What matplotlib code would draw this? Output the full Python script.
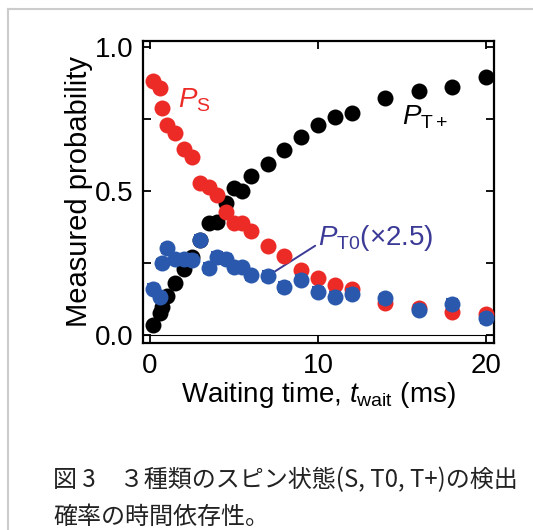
import matplotlib
matplotlib.use("Agg")
import matplotlib.pyplot as plt
from matplotlib.lines import Line2D

plt.rcParams["font.family"] = ["Liberation Sans", "DejaVu Sans"]
plt.rcParams["mathtext.fontset"] = "custom"
plt.rcParams["mathtext.rm"] = "Liberation Sans"
plt.rcParams["mathtext.it"] = "Liberation Sans:italic"

# waiting time (ms) and measured probabilities
t_ms = [0.2, 0.6, 0.7, 1.0, 1.5, 2.0, 2.5, 3.0, 3.5, 4.0, 4.5, 5.0, 5.5, 6.0,
        7, 8, 9, 10, 11, 12, 14, 16, 18, 20]
p_s = [0.883, 0.857, 0.787, 0.729, 0.700, 0.645, 0.619, 0.527, 0.515, 0.485,
       0.428, 0.388, 0.390, 0.359, 0.309, 0.274, 0.226, 0.198, 0.174, 0.160,
       0.111, 0.094, 0.081, 0.073]
p_tplus = [0.035, 0.075, 0.098, 0.135, 0.180, 0.228, 0.272, 0.330, 0.388, 0.393,
           0.457, 0.509, 0.498, 0.550, 0.594, 0.642, 0.686, 0.729, 0.758, 0.770,
           0.822, 0.848, 0.862, 0.895]
p_t0_x25 = [0.160, 0.133, 0.249, 0.301, 0.262, 0.263, 0.260, 0.330, 0.232, 0.272,
            0.263, 0.236, 0.235, 0.207, 0.204, 0.166, 0.191, 0.150, 0.133, 0.142,
            0.127, 0.087, 0.107, 0.058]
p_t0_err = [0.016] * len(t_ms)

RED = "#ec2a26"
BLUE = "#2a58ad"
INDIGO = "#3b3a96"
FS = 20
MS = 11.5

fig = plt.figure(figsize=(5.33, 5.30), dpi=100)
ax = fig.add_axes([0.268, 0.353, 0.659, 0.570])

ax.axhline(0, color="black", lw=0.8, zorder=1)
ax.plot(t_ms, p_tplus, "o", color="black", ms=MS, mec="none", zorder=3)
ax.plot(t_ms, p_s, "o", color=RED, ms=MS, mec="none", zorder=4)
ax.errorbar(t_ms, p_t0_x25, yerr=p_t0_err, fmt="o", color=BLUE, ms=MS,
            mec="none", elinewidth=1.5, capsize=4.5, capthick=1.5, zorder=5)

ax.text(1.65, 0.79, r"$P_{\mathrm{S}}$", color=RED, fontsize=FS)
ax.text(15.0, 0.73, r"$P_{\mathrm{T+}}$", color="black", fontsize=FS)
ax.annotate(r"$P_{\mathrm{T0}}$(×2.5)", xy=(t_ms[14], p_t0_x25[14]),
            xytext=(10.0, 0.312), color=INDIGO, fontsize=FS,
            ha="left", va="baseline",
            arrowprops=dict(arrowstyle="-", color=INDIGO, lw=1.4,
                            relpos=(0, 0.3), shrinkA=0, shrinkB=6))

ax.set_xlim(-0.42, 20.48)
ax.set_ylim(-0.028, 1.021)
ax.set_xticks([0, 10, 20])
ax.set_yticks([0, 0.5, 1.0])
ax.set_yticklabels(["0.0", "0.5", "1.0"])
ax.set_yticks([0.25, 0.75], minor=True)
ax.tick_params(which="both", direction="in", top=True, right=True,
               length=6, width=1.3, labelsize=FS, pad=7)
for s in ax.spines.values():
    s.set_linewidth(1.6)

ax.set_xlabel(r"Waiting time, $t_{\mathrm{wait}}$ (ms)", fontsize=FS, labelpad=1)
ax.set_ylabel("Measured probability", fontsize=21, labelpad=1)

# page frame around the figure block
fig.add_artist(Line2D([7.5 / 533, 7.5 / 533], [0, 1 - 9 / 530],
                      transform=fig.transFigure, color="#cccccc", lw=1.5))
fig.add_artist(Line2D([7.5 / 533, 1], [1 - 9 / 530, 1 - 9 / 530],
                      transform=fig.transFigure, color="#cccccc", lw=1.5))

cap = ["Noto Sans CJK JP", "DejaVu Sans"]
fig.text(53 / 533, 1 - 480 / 530, "図 3　３種類のスピン状態(S, T0, T+)の検出",
         family=cap, fontsize=17.3, va="center", ha="left", color="#222222")
fig.text(53 / 533, 1 - 517 / 530, "確率の時間依存性。",
         family=cap, fontsize=17.3, va="center", ha="left", color="#222222")

fig.savefig("out.png", dpi=100)
